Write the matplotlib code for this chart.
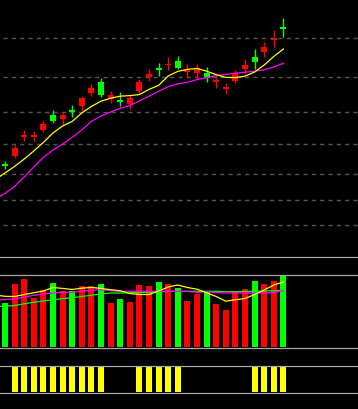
import matplotlib
matplotlib.use("Agg")
import matplotlib.pyplot as plt
import numpy as np

##### Data (price units are arbitrary) #####
opens  = [14.66, 15.05, 16.02, 16.02, 16.35, 17.10, 16.90, 17.35, 17.55, 18.20,
          18.75, 17.90, 17.85, 17.65, 18.30, 19.00, 19.43, 19.60, 19.80, 19.25,
          19.20, 19.20, 18.75, 18.40, 18.80, 19.40, 20.00, 20.25, 20.85, 21.50]
highs  = [14.79, 15.60, 16.35, 16.30, 16.80, 17.35, 17.25, 17.60, 18.05, 18.65,
          18.95, 18.30, 18.25, 18.10, 18.90, 19.40, 19.70, 20.00, 20.05, 19.65,
          19.65, 19.50, 19.10, 18.70, 19.35, 19.90, 20.40, 20.75, 21.35, 21.95]
lows   = [14.40, 14.95, 15.80, 15.80, 16.25, 16.70, 16.60, 17.00, 17.30, 18.05,
          18.00, 17.70, 17.55, 17.40, 18.15, 18.80, 19.05, 19.35, 19.40, 19.00,
          18.90, 18.75, 18.45, 18.15, 18.70, 19.15, 19.40, 20.00, 20.50, 21.00]
closes = [14.57, 15.45, 16.10, 16.12, 16.65, 16.80, 17.10, 17.25, 17.95, 18.45,
          18.10, 18.10, 17.75, 17.95, 18.75, 19.15, 19.35, 19.67, 19.45, 19.35,
          19.45, 18.95, 18.85, 18.50, 19.20, 19.60, 19.75, 20.50, 20.95, 21.40]

# moving average lines, first value is at the left edge of the chart
ma_short = [14.04, 14.20, 14.53, 14.90, 15.30, 15.73, 16.20, 16.55, 16.78, 17.20,
            17.53, 17.79, 17.94, 18.04, 18.07, 18.12, 18.38, 18.58, 19.05, 19.28,
            19.38, 19.43, 19.29, 19.12, 18.98, 18.97, 19.04, 19.25, 19.60, 20.03, 20.40]
ma_long  = [13.04, 13.18, 13.53, 14.00, 14.50, 14.98, 15.35, 15.65, 15.98, 16.35,
            16.78, 17.05, 17.25, 17.44, 17.57, 17.80, 18.04, 18.28, 18.52, 18.66,
            18.73, 18.87, 18.97, 19.07, 19.13, 19.19, 19.24, 19.29, 19.36, 19.50, 19.69]

grid_levels = [20.95, 19.00, 17.25, 15.65, 14.15, 12.85, 11.60]

volume = [44, 63, 68, 49, 57, 64, 56, 56, 61, 61, 63, 44, 48, 45, 62,
          61, 65, 63, 59, 46, 53, 55, 43, 37, 56, 58, 66, 63, 66, 71]

vol_ma5  = [51.3, 50.7, 50.5, 52.5, 54.2, 56.0, 59.5, 58.6, 57.5, 58.8, 59.6,
            58.6, 57.3, 56.3, 53.5, 52.5, 52.5, 56.0, 60.0, 62.0, 59.5,
            57.8, 54.2, 50.5, 45.8, 47.3, 48.5, 52.5, 57.0, 62.0, 65.0]
vol_ma10 = [47.0, 47.5, 48.2, 50.0, 51.7, 53.0, 54.0, 54.7, 54.7, 55.8, 56.8,
            57.3, 56.3, 55.7, 55.7, 55.7, 55.7, 55.7, 55.7, 55.7, 55.5,
            54.7, 55.3, 54.5, 54.0, 54.0, 54.0, 54.0, 54.0, 54.5, 56.5]
vol_ma20 = [40.7, 40.7, 41.5, 43.2, 44.7, 46.0, 47.2, 48.4, 49.2, 50.5, 51.8,
            53.0, 54.0, 54.0, 54.2, 54.5, 54.7, 55.3, 55.5, 55.7, 55.7,
            55.7, 55.7, 55.7, 55.3, 55.3, 55.5, 55.7, 56.0, 56.3, 56.7]

signal = [0, 1, 1, 1, 1, 1, 1, 1, 1, 1, 1, 0, 0, 0, 1,
          1, 1, 1, 1, 0, 0, 0, 0, 0, 0, 0, 1, 1, 1, 1]

##### Style #####
RED = "#ff0000"
GREEN = "#00ff00"
YELLOW = "#ffff00"
MAGENTA = "#ff00ff"
SOLID = "#a8a8a8"
DASH = "#555555"
W = 0.625
XLIM = (-0.52, 36.77)

n = len(opens)
x = np.arange(n)
x_ma = np.concatenate([[-0.5], x])
up = np.array(closes) >= np.array(opens)
colors = [RED if u else GREEN for u in up]

fig = plt.figure(figsize=(3.58, 4.10), dpi=100, facecolor="black")
H = 410.0

def make_ax(top, bottom):
    ax = fig.add_axes([0, (H - bottom) / H, 1, (bottom - top) / H])
    ax.set_facecolor("black")
    ax.set_xlim(*XLIM)
    ax.set_xticks([])
    ax.set_yticks([])
    for s in ax.spines.values():
        s.set_visible(False)
    return ax

def show_border(ax):
    for side in ["top", "bottom"]:
        ax.spines[side].set_visible(True)
        ax.spines[side].set_color(SOLID)
        ax.spines[side].set_linewidth(0.9)

##### Price panel #####
ax = make_ax(0, 258)
ax.set_ylim(10.0, 22.9)
for g in grid_levels:
    ax.axhline(g, xmin=0.008, color=DASH, lw=1, ls=(0, (3, 3)))

o = np.array(opens)
c = np.array(closes)
body_lo = np.minimum(o, c)
body_h = np.maximum(np.abs(c - o), 0.06)
ax.vlines(x, lows, highs, colors=colors, lw=1)
ax.bar(x, body_h, bottom=body_lo, width=W, color=colors, linewidth=0)
ax.plot(x_ma, ma_long, color=MAGENTA, lw=0.9)
ax.plot(x_ma, ma_short, color=YELLOW, lw=0.9)

##### Volume panel #####
av = make_ax(258, 349)
av.set_ylim(-1, 90)
show_border(av)
av.axhline(72, color=SOLID, lw=0.9)
av.bar(x, volume, width=W, color=colors, linewidth=0)
av.plot(x_ma, vol_ma20, color=GREEN, lw=0.9)
av.plot(x_ma, vol_ma10, color=MAGENTA, lw=0.9)
av.plot(x_ma, vol_ma5, color=YELLOW, lw=0.9)

##### Signal panel #####
asg = make_ax(367, 394)
asg.set_ylim(-0.04, 1.04)
show_border(asg)
asg.bar(x, signal, width=W, color=YELLOW, linewidth=0)

fig.savefig("out.png", dpi=100, facecolor="black")
